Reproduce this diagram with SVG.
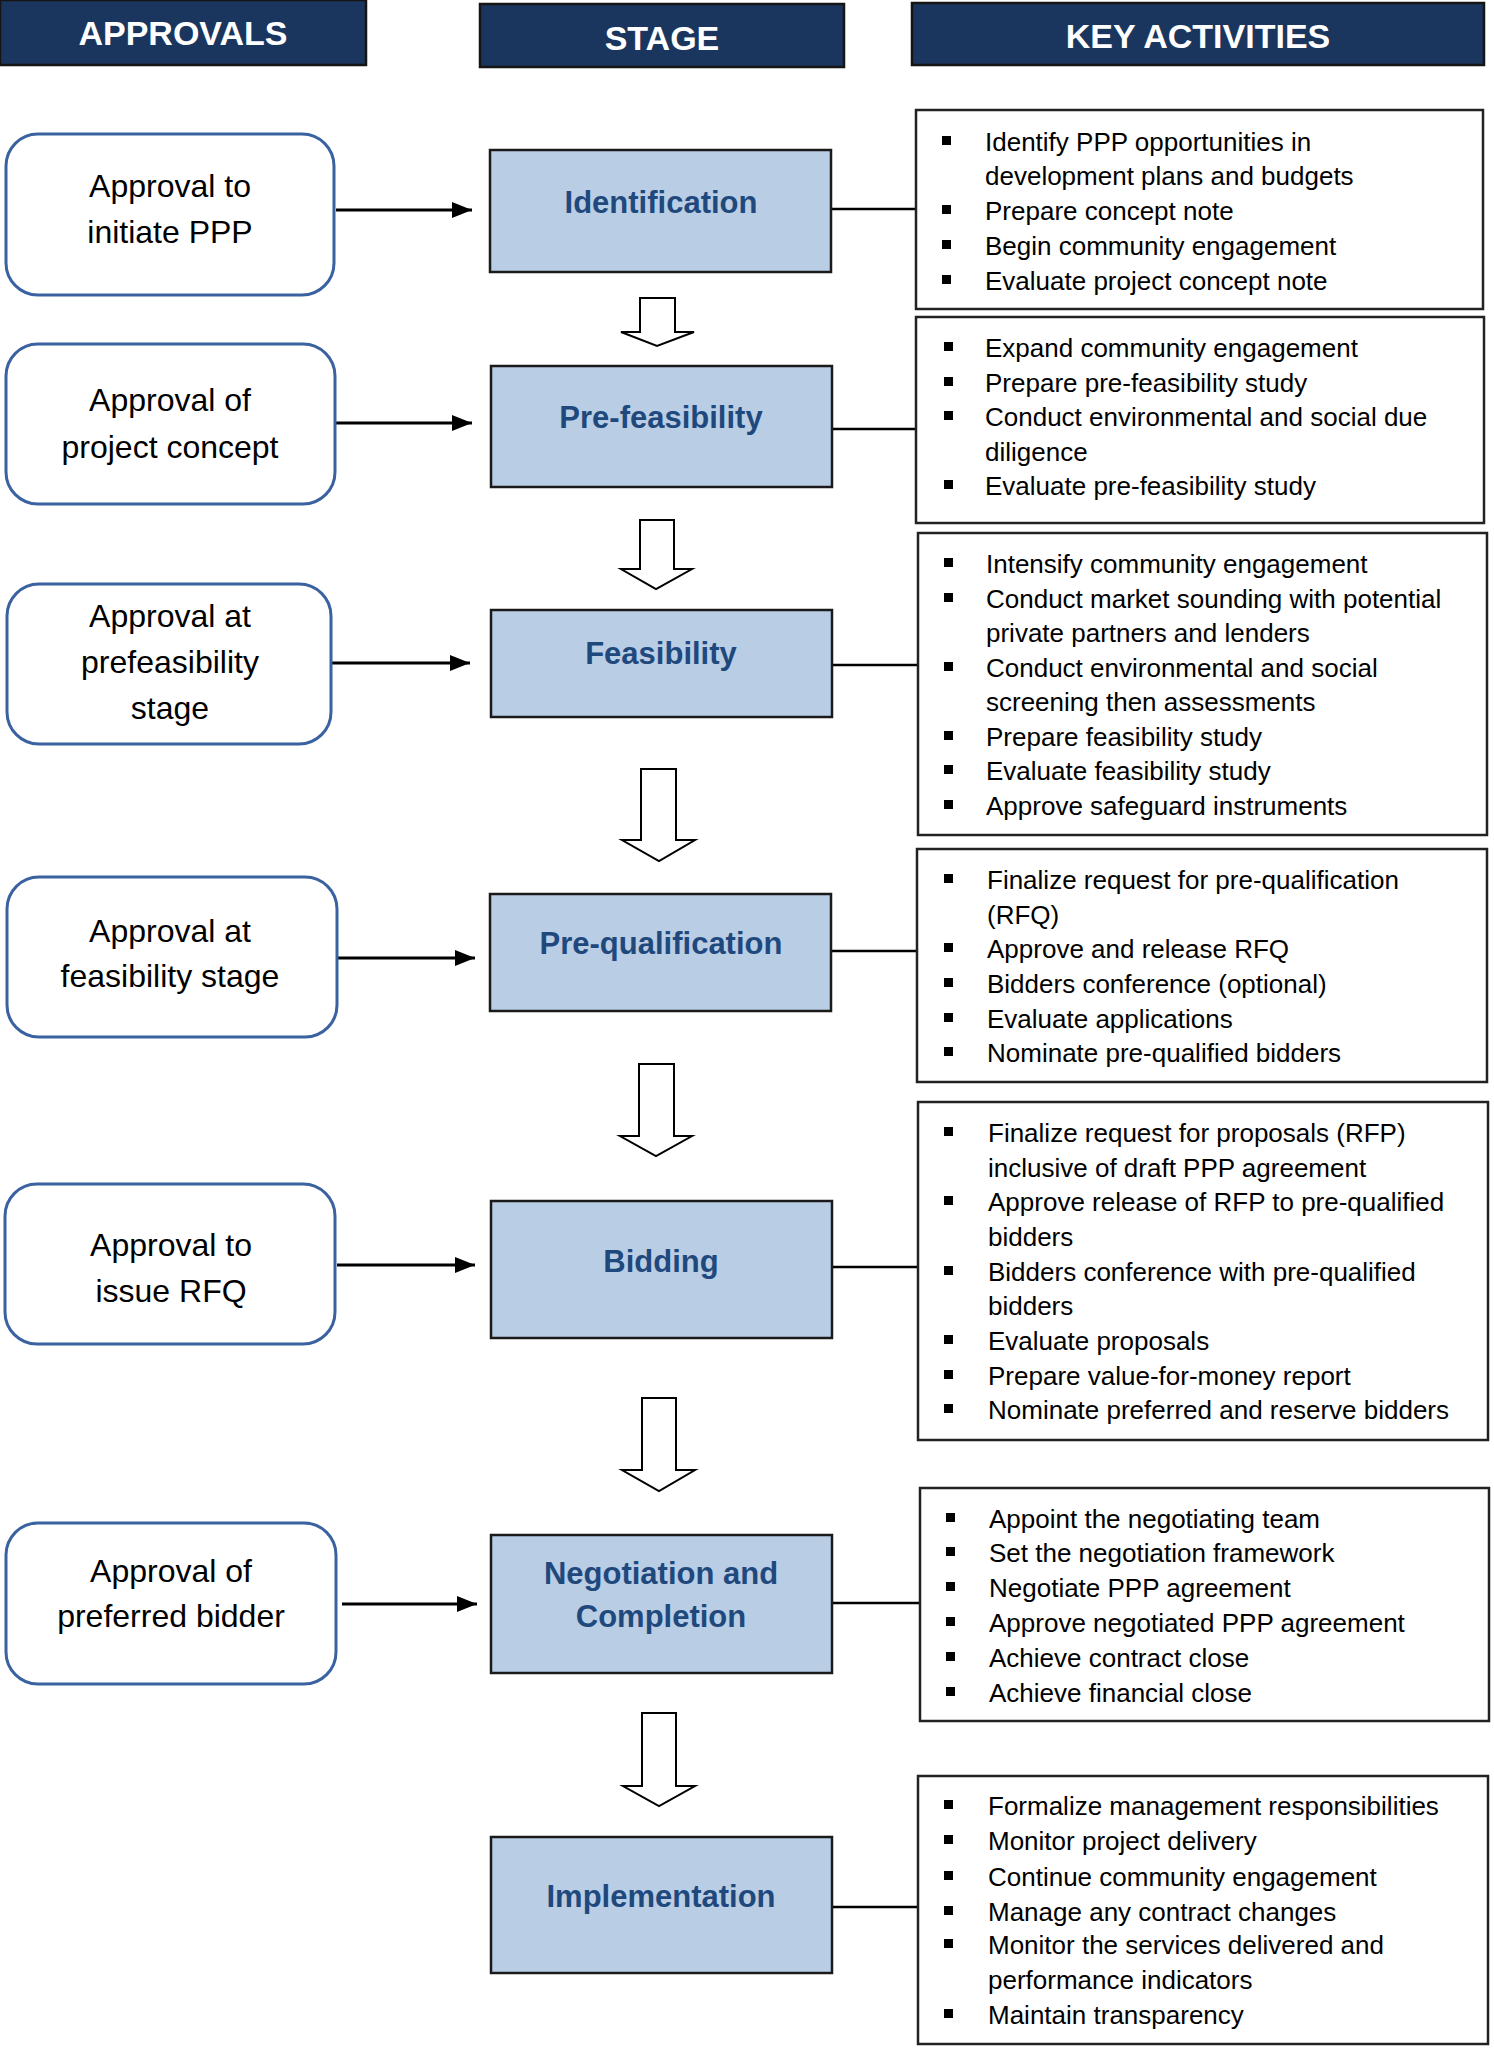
<svg xmlns="http://www.w3.org/2000/svg" width="1494" height="2048" viewBox="0 0 1494 2048">
<defs>
<style>
.hdr{fill:#1b365e;stroke:#151515;stroke-width:2.5}
.hdrt{font-family:"Liberation Sans",Arial,sans-serif;font-weight:bold;font-size:34px;fill:#ffffff;text-anchor:middle}
.appr{fill:#ffffff;stroke:#3a62a0;stroke-width:3}
.apprt{font-family:"Liberation Sans",Arial,sans-serif;font-size:32px;fill:#000000;text-anchor:middle}
.stage{fill:#b9cde5;stroke:#1a1a1a;stroke-width:2.5}
.staget{font-family:"Liberation Sans",Arial,sans-serif;font-weight:bold;font-size:31px;fill:#1f497d;text-anchor:middle}
.act{fill:#ffffff;stroke:#222222;stroke-width:2.5}
.actt{font-family:"Liberation Sans",Arial,sans-serif;font-size:26px;fill:#000000}
.bul{fill:#000000}
.conn{stroke:#000000;stroke-width:2.5;fill:none}
.arr{stroke:#000000;stroke-width:3;fill:none}
.down{fill:#ffffff;stroke:#000000;stroke-width:2}
</style>
<marker id="ah" viewBox="0 0 20 16" refX="20" refY="8" markerWidth="20" markerHeight="16" markerUnits="userSpaceOnUse" orient="auto">
<path d="M0,0 L20,8 L0,16 Z" fill="#000000"/>
</marker>
</defs>
<rect width="1494" height="2048" fill="#ffffff"/>

<g id="header-approvals"><rect class="hdr" x="0" y="0" width="366" height="65"/><text class="hdrt" x="183" y="45">APPROVALS</text></g>
<g id="header-stage"><rect class="hdr" x="480" y="4" width="364" height="63"/><text class="hdrt" x="662" y="50">STAGE</text></g>
<g id="header-activities"><rect class="hdr" x="912" y="3" width="572" height="62"/><text class="hdrt" x="1198" y="48">KEY ACTIVITIES</text></g>

<g id="connectors">
<line class="arr" x1="336" y1="210" x2="472" y2="210" marker-end="url(#ah)"/>
<line class="arr" x1="336" y1="423" x2="472" y2="423" marker-end="url(#ah)"/>
<line class="arr" x1="331" y1="663" x2="470" y2="663" marker-end="url(#ah)"/>
<line class="arr" x1="337" y1="958" x2="475" y2="958" marker-end="url(#ah)"/>
<line class="arr" x1="337" y1="1265" x2="475" y2="1265" marker-end="url(#ah)"/>
<line class="arr" x1="342" y1="1604" x2="477" y2="1604" marker-end="url(#ah)"/>
<line class="conn" x1="831" y1="209" x2="916" y2="209"/>
<line class="conn" x1="832" y1="429" x2="916" y2="429"/>
<line class="conn" x1="832" y1="665" x2="918" y2="665"/>
<line class="conn" x1="831" y1="951" x2="917" y2="951"/>
<line class="conn" x1="832" y1="1267" x2="918" y2="1267"/>
<line class="conn" x1="832" y1="1603" x2="920" y2="1603"/>
<line class="conn" x1="832" y1="1907" x2="918" y2="1907"/>
<path class="down" d="M640,298 H675 V332 H694 L657,346 L621,332 H640 Z"/>
<path class="down" d="M640,520 H674 V569 H692 L656,589 L621,569 H640 Z"/>
<path class="down" d="M641,769 H676 V840 H695 L659,861 L622,840 H641 Z"/>
<path class="down" d="M639,1064 H674 V1136 H692 L656,1156 L620,1136 H639 Z"/>
<path class="down" d="M642,1398 H676 V1470 H695 L659,1491 L622,1470 H642 Z"/>
<path class="down" d="M642,1713 H676 V1786 H695 L659,1806 L623,1786 H642 Z"/>
</g>

<g id="approval-1"><rect class="appr" x="6" y="134" width="328" height="161" rx="32"/>
<text class="apprt" x="170" y="197">Approval to</text><text class="apprt" x="170" y="243">initiate PPP</text></g>
<g id="approval-2"><rect class="appr" x="6" y="344" width="329" height="160" rx="32"/>
<text class="apprt" x="170" y="411">Approval of</text><text class="apprt" x="170" y="458">project concept</text></g>
<g id="approval-3"><rect class="appr" x="7" y="584" width="324" height="160" rx="32"/>
<text class="apprt" x="170" y="627">Approval at</text><text class="apprt" x="170" y="673">prefeasibility</text><text class="apprt" x="170" y="719">stage</text></g>
<g id="approval-4"><rect class="appr" x="7" y="877" width="330" height="160" rx="32"/>
<text class="apprt" x="170" y="942">Approval at</text><text class="apprt" x="170" y="987">feasibility stage</text></g>
<g id="approval-5"><rect class="appr" x="5" y="1184" width="330" height="160" rx="32"/>
<text class="apprt" x="171" y="1256">Approval to</text><text class="apprt" x="171" y="1302">issue RFQ</text></g>
<g id="approval-6"><rect class="appr" x="6" y="1523" width="330" height="161" rx="32"/>
<text class="apprt" x="171" y="1582">Approval of</text><text class="apprt" x="171" y="1627">preferred bidder</text></g>

<g id="stage-identification"><rect class="stage" x="490" y="150" width="341" height="122"/><text class="staget" x="661" y="213">Identification</text></g>
<g id="stage-prefeasibility"><rect class="stage" x="491" y="366" width="341" height="121"/><text class="staget" x="661" y="428">Pre-feasibility</text></g>
<g id="stage-feasibility"><rect class="stage" x="491" y="610" width="341" height="107"/><text class="staget" x="661" y="664">Feasibility</text></g>
<g id="stage-prequalification"><rect class="stage" x="490" y="894" width="341" height="117"/><text class="staget" x="661" y="954">Pre-qualification</text></g>
<g id="stage-bidding"><rect class="stage" x="491" y="1201" width="341" height="137"/><text class="staget" x="661" y="1272">Bidding</text></g>
<g id="stage-negotiation"><rect class="stage" x="491" y="1535" width="341" height="138"/><text class="staget" x="661" y="1584">Negotiation and</text><text class="staget" x="661" y="1627">Completion</text></g>
<g id="stage-implementation"><rect class="stage" x="491" y="1837" width="341" height="136"/><text class="staget" x="661" y="1907">Implementation</text></g>

<g id="activities-1"><rect class="act" x="916" y="110" width="567" height="199"/>
<rect class="bul" x="942" y="136" width="9" height="9"/><text class="actt" x="985" y="151">Identify PPP opportunities in</text>
<text class="actt" x="985" y="185">development plans and budgets</text>
<rect class="bul" x="942" y="205" width="9" height="9"/><text class="actt" x="985" y="220">Prepare concept note</text>
<rect class="bul" x="942" y="240" width="9" height="9"/><text class="actt" x="985" y="255">Begin community engagement</text>
<rect class="bul" x="942" y="275" width="9" height="9"/><text class="actt" x="985" y="290">Evaluate project concept note</text></g>

<g id="activities-2"><rect class="act" x="916" y="317" width="568" height="206"/>
<rect class="bul" x="944" y="342" width="9" height="9"/><text class="actt" x="985" y="357">Expand community engagement</text>
<rect class="bul" x="944" y="377" width="9" height="9"/><text class="actt" x="985" y="392">Prepare pre-feasibility study</text>
<rect class="bul" x="944" y="411" width="9" height="9"/><text class="actt" x="985" y="426">Conduct environmental and social due</text>
<text class="actt" x="985" y="461">diligence</text>
<rect class="bul" x="944" y="480" width="9" height="9"/><text class="actt" x="985" y="495">Evaluate pre-feasibility study</text></g>

<g id="activities-3"><rect class="act" x="918" y="533" width="569" height="302"/>
<rect class="bul" x="944" y="558" width="9" height="9"/><text class="actt" x="986" y="573">Intensify community engagement</text>
<rect class="bul" x="944" y="593" width="9" height="9"/><text class="actt" x="986" y="608">Conduct market sounding with potential</text>
<text class="actt" x="986" y="642">private partners and lenders</text>
<rect class="bul" x="944" y="662" width="9" height="9"/><text class="actt" x="986" y="677">Conduct environmental and social</text>
<text class="actt" x="986" y="711">screening then assessments</text>
<rect class="bul" x="944" y="731" width="9" height="9"/><text class="actt" x="986" y="746">Prepare feasibility study</text>
<rect class="bul" x="944" y="765" width="9" height="9"/><text class="actt" x="986" y="780">Evaluate feasibility study</text>
<rect class="bul" x="944" y="800" width="9" height="9"/><text class="actt" x="986" y="815">Approve safeguard instruments</text></g>

<g id="activities-4"><rect class="act" x="917" y="849" width="570" height="233"/>
<rect class="bul" x="944" y="874" width="9" height="9"/><text class="actt" x="987" y="889">Finalize request for pre-qualification</text>
<text class="actt" x="987" y="924">(RFQ)</text>
<rect class="bul" x="944" y="943" width="9" height="9"/><text class="actt" x="987" y="958">Approve and release RFQ</text>
<rect class="bul" x="944" y="978" width="9" height="9"/><text class="actt" x="987" y="993">Bidders conference (optional)</text>
<rect class="bul" x="944" y="1013" width="9" height="9"/><text class="actt" x="987" y="1028">Evaluate applications</text>
<rect class="bul" x="944" y="1047" width="9" height="9"/><text class="actt" x="987" y="1062">Nominate pre-qualified bidders</text></g>

<g id="activities-5"><rect class="act" x="918" y="1102" width="570" height="338"/>
<rect class="bul" x="944" y="1127" width="9" height="9"/><text class="actt" x="988" y="1142">Finalize request for proposals (RFP)</text>
<text class="actt" x="988" y="1177">inclusive of draft PPP agreement</text>
<rect class="bul" x="944" y="1196" width="9" height="9"/><text class="actt" x="988" y="1211">Approve release of RFP to pre-qualified</text>
<text class="actt" x="988" y="1246">bidders</text>
<rect class="bul" x="944" y="1266" width="9" height="9"/><text class="actt" x="988" y="1281">Bidders conference with pre-qualified</text>
<text class="actt" x="988" y="1315">bidders</text>
<rect class="bul" x="944" y="1335" width="9" height="9"/><text class="actt" x="988" y="1350">Evaluate proposals</text>
<rect class="bul" x="944" y="1370" width="9" height="9"/><text class="actt" x="988" y="1385">Prepare value-for-money report</text>
<rect class="bul" x="944" y="1404" width="9" height="9"/><text class="actt" x="988" y="1419">Nominate preferred and reserve bidders</text></g>

<g id="activities-6"><rect class="act" x="920" y="1488" width="569" height="233"/>
<rect class="bul" x="946" y="1513" width="9" height="9"/><text class="actt" x="989" y="1528">Appoint the negotiating team</text>
<rect class="bul" x="946" y="1547" width="9" height="9"/><text class="actt" x="989" y="1562">Set the negotiation framework</text>
<rect class="bul" x="946" y="1582" width="9" height="9"/><text class="actt" x="989" y="1597">Negotiate PPP agreement</text>
<rect class="bul" x="946" y="1617" width="9" height="9"/><text class="actt" x="989" y="1632">Approve negotiated PPP agreement</text>
<rect class="bul" x="946" y="1652" width="9" height="9"/><text class="actt" x="989" y="1667">Achieve contract close</text>
<rect class="bul" x="946" y="1687" width="9" height="9"/><text class="actt" x="989" y="1702">Achieve financial close</text></g>

<g id="activities-7"><rect class="act" x="918" y="1776" width="570" height="268"/>
<rect class="bul" x="944" y="1800" width="9" height="9"/><text class="actt" x="988" y="1815">Formalize management responsibilities</text>
<rect class="bul" x="944" y="1835" width="9" height="9"/><text class="actt" x="988" y="1850">Monitor project delivery</text>
<rect class="bul" x="944" y="1871" width="9" height="9"/><text class="actt" x="988" y="1886">Continue community engagement</text>
<rect class="bul" x="944" y="1906" width="9" height="9"/><text class="actt" x="988" y="1921">Manage any contract changes</text>
<rect class="bul" x="944" y="1939" width="9" height="9"/><text class="actt" x="988" y="1954">Monitor the services delivered and</text>
<text class="actt" x="988" y="1989">performance indicators</text>
<rect class="bul" x="944" y="2009" width="9" height="9"/><text class="actt" x="988" y="2024">Maintain transparency</text></g>
</svg>
